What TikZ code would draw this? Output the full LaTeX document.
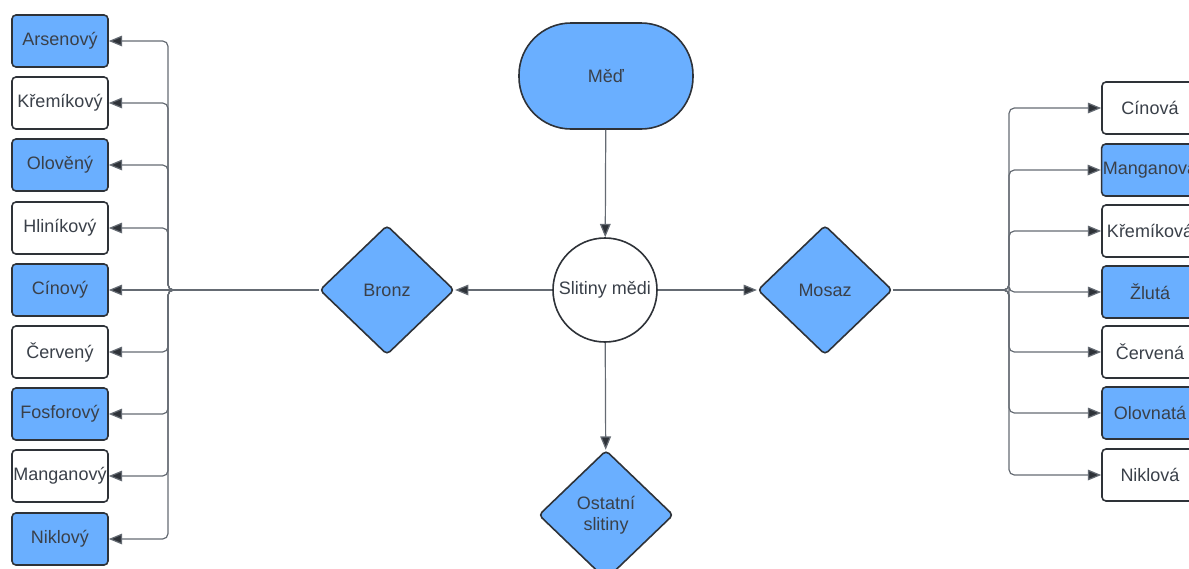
\documentclass[tikz,border=0pt]{standalone}
\usepackage{fontspec}
\setmainfont{Liberation Sans}
\usetikzlibrary{arrows.meta, shapes.geometric}

\definecolor{alloyblue}{HTML}{6AAFFF}
\definecolor{inkgray}{HTML}{3A4049}
\definecolor{wiregray}{HTML}{656B73}
\definecolor{rimgray}{HTML}{2E3238}

\tikzset{
  rim/.style={draw=rimgray, line width=1.2pt, text=inkgray},
  kind/.style={rim, rectangle, rounded corners=3pt, minimum width=72pt,
    minimum height=39pt, inner sep=1pt, fill=white},
  bluekind/.style={kind, fill=alloyblue},
  group/.style={rim, diamond, rounded corners=3pt, fill=alloyblue,
    minimum width=101pt, minimum height=97pt, inner sep=0pt, align=center},
  wire/.style={->, draw=wiregray, line width=0.9pt, rounded corners=4pt}
}

\begin{document}
\begin{tikzpicture}[x=0.75pt,y=-0.75pt,
  >={Triangle[length=10pt,width=8pt,sharp,fill=rimgray]},
  font=\fontsize{13.5}{16}\selectfont]
  \useasboundingbox (0,0) rectangle (1189,568);
  \clip (0,0) rectangle (1189,568);

% define the center of the chart
  \node[rim, rectangle, rounded corners=39pt, fill=alloyblue,
    minimum width=130.5pt, minimum height=79.5pt] (med) at (606,76) {Měď};
  \node[rim, circle, fill=white, minimum size=78pt, inner sep=0pt] (slitiny) at (605,290) {Slitiny mědi};
  \node[group] (bronz)   at (387,290) {Bronz};
  \node[group] (mosaz)   at (825,290) {Mosaz};
  \node[group] (ostatni) at (606,515) {Ostatní\\slitiny};

% define the bronze kinds
  \node[bluekind] (arsen)    at (60,41)  {Arsenový};
  \node[kind]     (kremik)   at (60,103) {Křemíkový};
  \node[bluekind] (olovo)    at (60,165) {Olověný};
  \node[kind]     (hlinik)   at (60,228) {Hliníkový};
  \node[bluekind] (cin)      at (60,290) {Cínový};
  \node[kind]     (cerveny)  at (60,352) {Červený};
  \node[bluekind] (fosfor)   at (60,414) {Fosforový};
  \node[kind]     (mangan)   at (60,476) {Manganový};
  \node[bluekind] (nikl)     at (60,539) {Niklový};

% define the brass kinds
  \node[kind]     (cinova)   at (1150,108) {Cínová};
  \node[bluekind] (manganova) at (1150,170) {Manganová};
  \node[kind]     (kremikova) at (1150,231) {Křemíková};
  \node[bluekind] (zluta)    at (1150,292) {Žlutá};
  \node[kind]     (cervena)  at (1150,352) {Červená};
  \node[bluekind] (olovnata) at (1150,413) {Olovnatá};
  \node[kind]     (niklova)  at (1150,475) {Niklová};

  \coordinate (ltrunk) at (168,290);
  \coordinate (rtrunk) at (1009,290);

% define the links
  \path[wire] (med) edge (slitiny)
    (slitiny) edge (bronz)
    (slitiny) edge (mosaz)
    (slitiny) edge (ostatni);

  \draw[wire] (bronz.west) -- (ltrunk) |- (arsen.east);
  \draw[wire] (bronz.west) -- (ltrunk) |- (kremik.east);
  \draw[wire] (bronz.west) -- (ltrunk) |- (olovo.east);
  \draw[wire] (bronz.west) -- (ltrunk) |- (hlinik.east);
  \draw[wire] (bronz.west) -- (cin.east);
  \draw[wire] (bronz.west) -- (ltrunk) |- (cerveny.east);
  \draw[wire] (bronz.west) -- (ltrunk) |- (fosfor.east);
  \draw[wire] (bronz.west) -- (ltrunk) |- (mangan.east);
  \draw[wire] (bronz.west) -- (ltrunk) |- (nikl.east);

  \draw[wire] (mosaz.east) -- (rtrunk) |- (cinova.west);
  \draw[wire] (mosaz.east) -- (rtrunk) |- (manganova.west);
  \draw[wire] (mosaz.east) -- (rtrunk) |- (kremikova.west);
  \draw[wire] (mosaz.east) -- (rtrunk) |- (zluta.west);
  \draw[wire] (mosaz.east) -- (rtrunk) |- (cervena.west);
  \draw[wire] (mosaz.east) -- (rtrunk) |- (olovnata.west);
  \draw[wire] (mosaz.east) -- (rtrunk) |- (niklova.west);
\end{tikzpicture}
\end{document}
